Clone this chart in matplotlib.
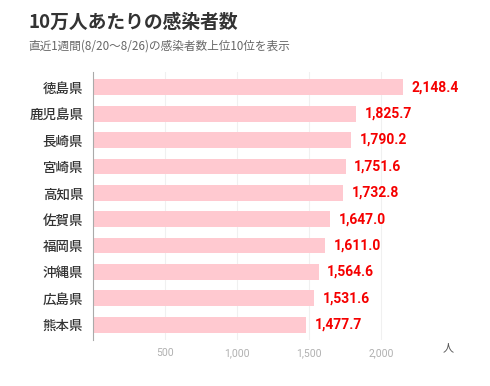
import matplotlib
matplotlib.use("Agg")
import matplotlib.pyplot as plt
from matplotlib.ticker import FuncFormatter

plt.rcParams['font.family'] = ['Noto Sans CJK JP', 'DejaVu Sans']

prefs = ["徳島県", "鹿児島県", "長崎県", "宮崎県", "高知県",
         "佐賀県", "福岡県", "沖縄県", "広島県", "熊本県"]
values = [2148.4, 1825.7, 1790.2, 1751.6, 1732.8,
          1647.0, 1611.0, 1564.6, 1531.6, 1477.7]
xticks = [500, 1000, 1500, 2000]

fig = plt.figure(figsize=(4.9, 3.86), dpi=100)
ax = fig.add_axes([93 / 490, 1 - 340 / 386, (439 - 93) / 490, (340 - 72) / 386])

ypos = list(range(len(prefs)))
ax.barh(ypos, values, height=0.6, color="#ffc9d0", zorder=2)
for y, v in zip(ypos, values):
    ax.text(v + 60, y, f"{v:,.1f}", va="center", ha="left",
            color="#f50000", fontsize=10, fontweight="bold",
            family=["Roboto", "DejaVu Sans"])

ax.set_xlim(0, 2400)
ax.set_ylim(len(prefs) - 0.42, -0.58)
ax.set_yticks(ypos)
ax.set_yticklabels(prefs, fontsize=9.7, fontweight="medium", color="#333333")
ax.set_xticks(xticks)
ax.xaxis.set_major_formatter(FuncFormatter(lambda x, p: f"{int(x):,}"))
for lbl in ax.get_xticklabels():
    lbl.set_family(["Roboto", "DejaVu Sans"])
ax.tick_params(axis="x", length=0, labelsize=7.5, labelcolor="#b0b0b0", pad=6)
ax.tick_params(axis="y", length=0, pad=7)
ax.grid(axis="x", color="#f0f0f0", linewidth=0.8, zorder=0)
for s in ["top", "right", "bottom"]:
    ax.spines[s].set_visible(False)
ax.spines["left"].set_color("#aaaaaa")
ax.spines["left"].set_linewidth(0.8)

fig.text(448 / 490, 1 - 348 / 386, "人", fontsize=8, color="#555555",
         ha="center", va="center")
fig.text(28 / 490, 1 - 22 / 386, "10万人あたりの感染者数", fontsize=13.5,
         fontweight="bold", color="#333333", va="center")
fig.text(28 / 490, 1 - 46 / 386, "直近1週間(8/20〜8/26)の感染者数上位10位を表示",
         fontsize=8.4, color="#666666", va="center")

fig.savefig("out.png", dpi=100)
